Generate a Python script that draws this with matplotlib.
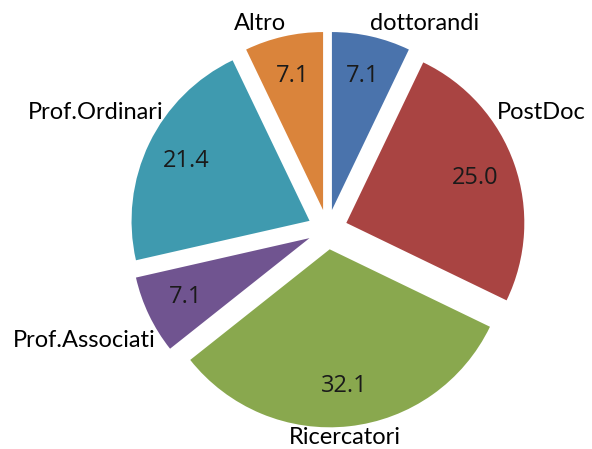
import matplotlib
matplotlib.use("Agg")
import matplotlib.pyplot as plt

categories = ["dottorandi", "PostDoc", "Ricercatori", "Prof.Associati", "Prof.Ordinari", "Altro"]
values = [7.1, 25.0, 32.1, 7.1, 21.4, 7.1]
colors = ["#4A73AC", "#A94442", "#89A84E", "#705490", "#3F9AAF", "#DA843B"]

W, H = 592, 449
R = 178.0
cx, cy = 327.5, 229.5

fig = plt.figure(figsize=(W / 100, H / 100), dpi=100)
ax = fig.add_axes([0, 0, 1, 1])

wedges, texts, autotexts = ax.pie(
    values, colors=colors, startangle=90, counterclock=False,
    explode=[0.112] * len(values), radius=1.0, labels=categories,
    autopct="%.1f", pctdistance=0.77, labeldistance=1.1,
    wedgeprops=dict(linewidth=0), textprops=dict(fontsize=17, family="Lato"),
    frame=True,
)
ax.set_xlim(-cx / R, (W - cx) / R)
ax.set_ylim(-(H - cy) / R, cy / R)
ax.set_aspect("auto")
ax.axis("off")

label_pos = {
    "dottorandi": (0.239, 1.160, "left"),
    "PostDoc": (0.952, 0.660, "left"),
    "Ricercatori": (0.098, -1.170, "center"),
    "Prof.Associati": (-0.963, -0.621, "right"),
    "Prof.Ordinari": (-0.924, 0.660, "right"),
    "Altro": (-0.233, 1.160, "right"),
}
for t in texts:
    x, y, ha = label_pos[t.get_text()]
    t.set_position((x, y))
    t.set_ha(ha)
    t.set_va("center")
    t.set_color("black")
for t, v in zip(autotexts, values):
    t.set_text(f"{v:.1f}")
    t.set_fontsize(17)
    t.set_family("Open Sans")
    t.set_color("#1a1a1a")

fig.savefig("out.png", dpi=100)
